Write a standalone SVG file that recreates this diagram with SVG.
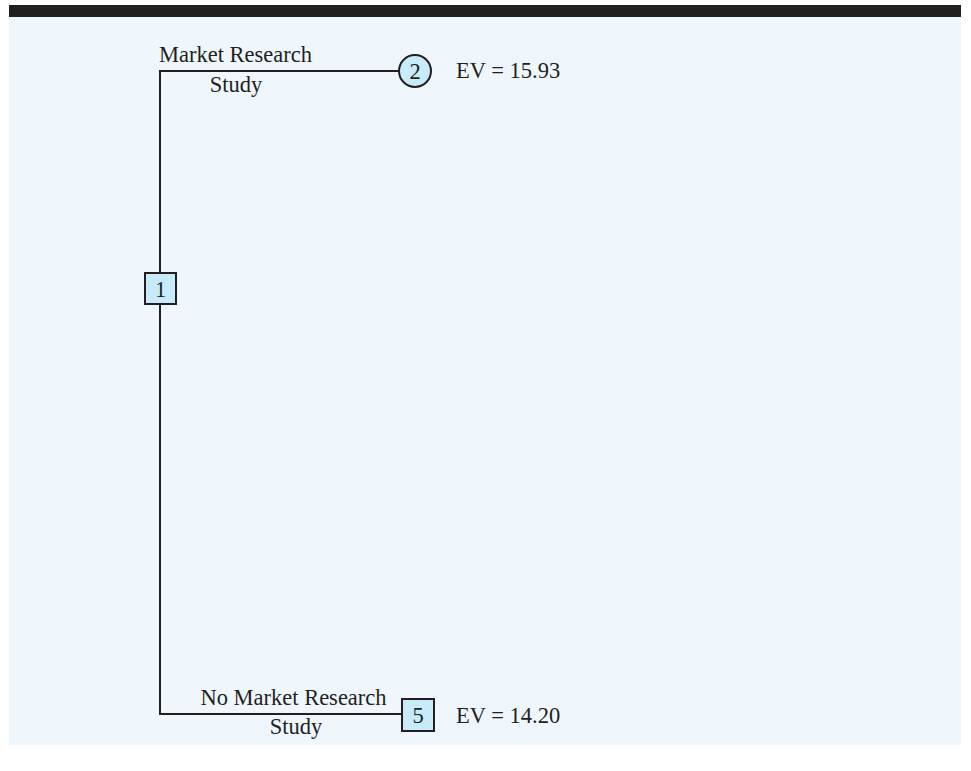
<svg xmlns="http://www.w3.org/2000/svg" width="971" height="771" viewBox="0 0 971 771">
<style>
.t{font-family:"Liberation Serif","Times New Roman",serif;font-size:22.5px;fill:#231f20}
.n{fill:#c8ebfa;stroke:#231f20;stroke-width:2}
.c{fill:none;stroke:#231f20;stroke-width:2}
</style>
<rect x="0" y="0" width="971" height="771" fill="#ffffff"/>
<rect x="9" y="17" width="952" height="728" fill="#eff7fd"/>
<rect x="9" y="5" width="952" height="12" fill="#231f20"/>
<g id="connectors">
<path class="c" d="M399,71 H160 V714 H402"/>
</g>
<g id="node1">
<rect class="n" x="145" y="273" width="31" height="31"/>
<text class="t" x="160.5" y="297" text-anchor="middle">1</text>
</g>
<g id="node2">
<circle class="n" cx="415" cy="71" r="16"/>
<text class="t" x="415" y="79" text-anchor="middle">2</text>
</g>
<g id="node5">
<rect class="n" x="402" y="699" width="32" height="32"/>
<text class="t" x="418" y="723" text-anchor="middle">5</text>
</g>
<g id="labels">
<text class="t" x="159" y="62">Market Research</text>
<text class="t" x="236" y="92" text-anchor="middle">Study</text>
<text class="t" x="456" y="78">EV = 15.93</text>
<text class="t" x="293.5" y="705" text-anchor="middle">No Market Research</text>
<text class="t" x="296" y="734" text-anchor="middle">Study</text>
<text class="t" x="456" y="723">EV = 14.20</text>
</g>
</svg>
